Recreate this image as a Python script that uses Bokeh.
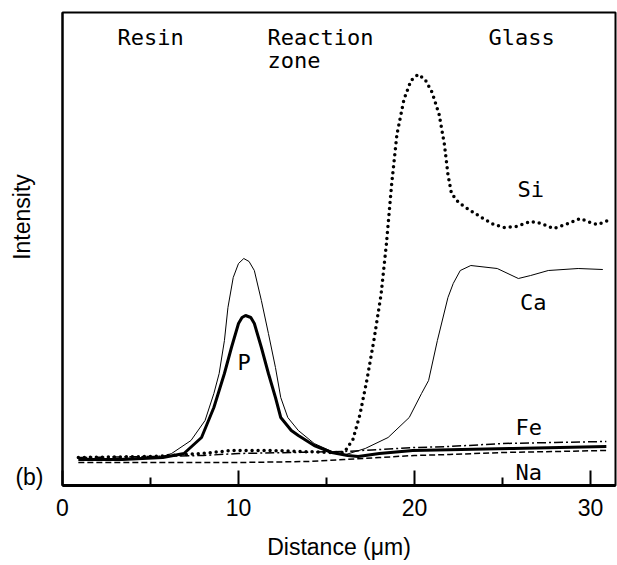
from bokeh.plotting import figure
from bokeh.models import FixedTicker, Label, Range1d
from bokeh.embed import file_html
from bokeh.resources import INLINE

# ---- data (distance in um, intensity in arbitrary units) ----
si_x = [0.9, 5.1, 7.9, 9.6, 11.9, 13.6, 15.3, 16.0, 16.5, 16.9, 17.3, 17.7, 18.1, 18.4, 18.7,
        19.0, 19.4, 19.8, 20.2, 20.6, 21.0, 21.4, 21.7, 21.9, 22.1, 22.5, 23.0, 23.8, 24.5,
        25.1, 25.8, 26.6, 27.2, 27.9, 28.6, 29.4, 30.0, 30.4, 31.0]
si_y = [37, 38, 41, 44, 44, 43, 42, 42, 55, 80, 115, 155, 200, 250, 310,
        360, 395, 414, 420, 415, 402, 380, 350, 320, 301, 292, 286, 277, 270,
        267, 268, 273, 271, 266, 270, 276, 272, 270, 274]

ca_x = [0.9, 3.0, 5.5, 6.2, 7.3, 8.1, 8.6, 8.9, 9.2, 9.4, 9.7, 10.0, 10.3, 10.6, 10.9,
        11.3, 11.7, 12.1, 12.4, 12.8, 13.4, 14.3, 15.3, 16.1, 17.2, 18.5, 19.7, 20.4,
        20.8, 21.3, 21.9, 22.2, 22.6, 23.2, 24.7, 25.9, 26.6, 27.6, 29.3, 30.7]
ca_y = [36, 36, 37, 41, 54, 74, 101, 121, 154, 187, 217, 231, 236, 233, 224,
        194, 161, 127, 97, 77, 64, 51, 43, 40, 46, 57, 77, 101,
        114, 154, 197, 211, 224, 229, 226, 216, 219, 224, 226, 225]

p_x = [0.9, 3.4, 5.7, 6.9, 7.9, 8.6, 9.2, 9.6, 10.0, 10.2, 10.4, 10.7, 10.9, 11.3, 11.7,
       12.1, 12.4, 13.0, 13.4, 14.3, 15.3, 16.2, 16.8, 18.0, 19.9, 25.6, 30.9]
p_y = [35, 35, 37, 41, 57, 87, 121, 147, 171, 177, 179, 177, 171, 147, 121,
       97, 77, 64, 59, 49, 42, 39, 38, 41, 44, 46, 48]

fe_x = [0.9, 5.0, 8.0, 10.0, 13.0, 16.0, 18.0, 20.0, 22.0, 25.0, 28.0, 30.9]
fe_y = [37, 38, 39, 41, 42, 43, 45, 47, 48, 51, 52, 53]

na_x = [0.9, 5.0, 10.0, 14.0, 16.0, 18.0, 20.0, 22.0, 25.0, 28.0, 30.9]
na_y = [32, 32, 32, 33, 35, 37, 39, 40, 42, 43, 44]

x_ticks = [0, 10, 20, 30]
x_minor = [5, 15, 25]

p = figure(width=617, height=565, output_backend="svg", toolbar_location=None,
           x_range=Range1d(0, 31.42), y_range=Range1d(9, 482),
           min_border_left=62, min_border_right=2, min_border_top=12, min_border_bottom=80,
           background_fill_color="white", border_fill_color="white")

p.xgrid.visible = False
p.ygrid.visible = False
p.outline_line_color = "black"
p.outline_line_width = 2

sans = "Liberation Sans"

ax = p.xaxis[0]
ax.ticker = FixedTicker(ticks=x_ticks, minor_ticks=x_minor)
ax.axis_line_width = 3
ax.major_tick_in = 15
ax.major_tick_out = 0
ax.minor_tick_in = 8
ax.minor_tick_out = 0
ax.major_tick_line_width = 2
ax.minor_tick_line_width = 2
ax.major_label_standoff = 13
ax.major_label_text_font = sans
ax.major_label_text_font_size = "23px"
ax.major_label_text_color = "black"
ax.axis_label = "Distance (μm)"
ax.axis_label_text_font = sans
ax.axis_label_text_font_size = "23px"
ax.axis_label_text_font_style = "normal"
ax.axis_label_text_color = "black"
ax.axis_label_standoff = 15

ay = p.yaxis[0]
ay.ticker = FixedTicker(ticks=[18])
ay.major_label_overrides = {18: "(b)"}
ay.axis_line_width = 2
ay.major_tick_out = 0
ay.major_tick_in = 0
ay.minor_tick_out = 0
ay.minor_tick_in = 0
ay.major_label_standoff = 19
ay.major_label_text_font = sans
ay.major_label_text_font_size = "23px"
ay.major_label_text_color = "black"
ay.axis_label = "\u00a0" * 10 + "Intensity"
ay.axis_label_text_font = sans
ay.axis_label_text_font_size = "23px"
ay.axis_label_text_font_style = "normal"
ay.axis_label_text_color = "black"
ay.axis_label_standoff = -23

p.line(na_x, na_y, line_color="black", line_width=1.5, line_dash="6 3")
p.line(fe_x, fe_y, line_color="black", line_width=1.5, line_dash="9 3 2 3")
p.line(ca_x, ca_y, line_color="black", line_width=1)
p.line(p_x, p_y, line_color="black", line_width=3)
p.line(si_x, si_y, line_color="black", line_width=3.5, line_dash="0 6", line_cap="round")

mono = "DejaVu Sans Mono"
labels = [
    ("Resin", 3.13, 457), ("Reaction", 11.65, 457), ("zone", 11.65, 434), ("Glass", 24.2, 457),
    ("Si", 25.85, 305), ("Ca", 26.0, 192), ("P", 9.94, 132), ("Fe", 25.74, 67), ("Na", 25.74, 22),
]
for txt, lx, ly in labels:
    p.add_layout(Label(x=lx, y=ly, text=txt, text_font=mono, text_font_size="22px",
                       text_baseline="middle", text_align="left", text_color="black"))

open("out.html", "w").write(file_html(p, INLINE))
